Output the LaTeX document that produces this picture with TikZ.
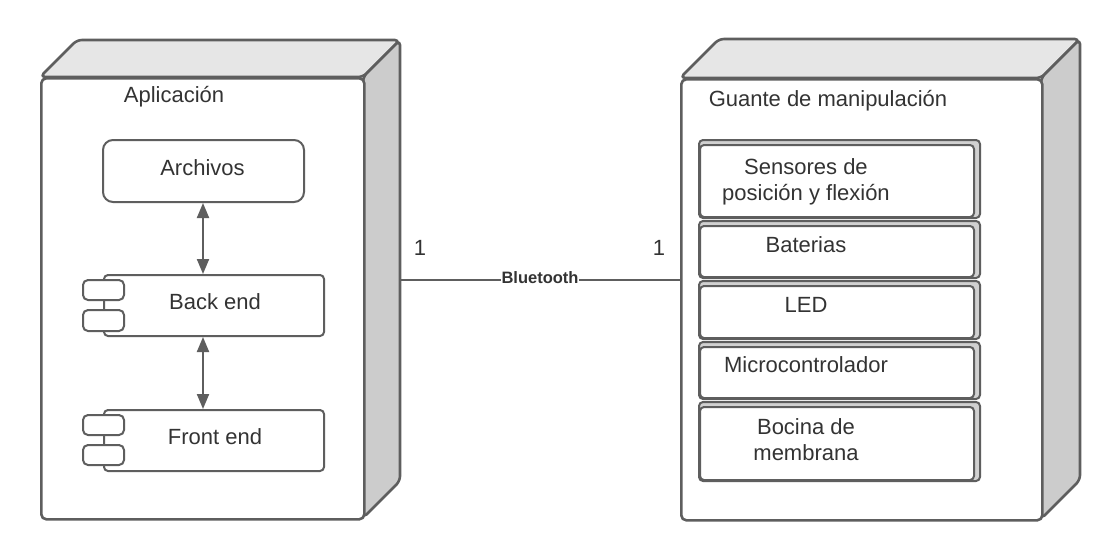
\documentclass[tikz,border=0pt]{standalone}
\usepackage{fontspec}
\setmainfont{Liberation Sans}
\usetikzlibrary{arrows.meta}
\definecolor{linec}{HTML}{5E5E5E}
\definecolor{textc}{HTML}{333333}
\definecolor{topc}{HTML}{E6E6E6}
\definecolor{sidec}{HTML}{CCCCCC}
\begin{document}
\begin{tikzpicture}[x=1pt,y=-1pt,
  bigline/.style={draw=linec, line width=2.6pt, line join=round, rounded corners=5pt},
  bigface/.style={bigline, fill=white, inner sep=0pt, anchor=north west},
  lbl/.style={text=textc, font=\fontsize{22}{26}\selectfont, anchor=base, inner sep=0pt},
  compbox/.style={draw=linec, line width=2pt, fill=white, inner sep=0pt, anchor=north west},
  boxline/.style={draw=linec, line width=2pt, rounded corners=4pt},
  boxface/.style={boxline, fill=white, inner sep=0pt},
  conn/.style={draw=linec, line width=2pt, {Triangle[length=15pt,width=12pt]}-{Triangle[length=15pt,width=12pt]}},
]
\useasboundingbox (0,0) rectangle (1120,560);
\fill[white] (0,0) rectangle (1120,560);

% ---------- Left node: Aplicacion ----------
\draw[bigline, fill=topc] (40,77) -- (77,40) -- (400,40) -- (363,77) -- cycle;
\draw[bigline, fill=sidec] (363,77) -- (400,40) -- (400,481) -- (363,518) -- cycle;
\node[bigface, minimum width=323pt, minimum height=441pt] (app) at (40,77) {};
\node[lbl] (apptitle) at (174,102.5) {Aplicación};

\node[compbox, rounded corners=10pt, minimum width=201pt, minimum height=62pt] (arch) at (102,139) {};
\node[lbl] (archtxt) at (202.5,175.5) {Archivos};

\node[compbox, rounded corners=4pt, minimum width=220pt, minimum height=61pt] (back) at (103,274) {};
\node[compbox, rounded corners=5pt, minimum width=41pt, minimum height=20pt] (backi1) at (82,279) {};
\node[compbox, rounded corners=5pt, minimum width=41pt, minimum height=21pt] (backi2) at (82,309) {};
\node[lbl] (backtxt) at (215,309) {Back end};

\node[compbox, rounded corners=4pt, minimum width=220pt, minimum height=61pt] (front) at (103,409) {};
\node[compbox, rounded corners=5pt, minimum width=41pt, minimum height=20pt] (fronti1) at (82,414) {};
\node[compbox, rounded corners=5pt, minimum width=41pt, minimum height=20pt] (fronti2) at (82,444) {};
\node[lbl] (fronttxt) at (215,444) {Front end};

\coordinate (ax) at (203,0);
\draw[conn] (arch.south -| ax) -- (back.north -| ax);
\draw[conn] (back.south -| ax) -- (front.north -| ax);

% ---------- Right node: Guante ----------
\draw[bigline, fill=topc] (680,78) -- (719,39) -- (1080,39) -- (1041,78) -- cycle;
\draw[bigline, fill=sidec] (1041,78) -- (1080,39) -- (1080,480) -- (1041,519) -- cycle;
\node[bigface, minimum width=361pt, minimum height=441pt] (glove) at (680,78) {};
\node[lbl] (glovetitle) at (828,106.7) {Guante de manipulación};

\foreach \n/\ya/\yb in {s1/140/218, s2/221/278, s3/281/339, s4/342/399, s5/402/481}{
  \draw[boxline, fill=sidec!80!topc] (699,\ya) rectangle (980,\yb);
  \node[boxface, minimum width=274pt, minimum height={(\yb-\ya-6)*1pt}, anchor=south west] (\n) at (699,\yb) {};
}
\node[lbl] (s1a) at (806,174) {Sensores de};
\node[lbl] (s1b) at (806,200.7) {posición y flexión};
\node[lbl] (s2t) at (806,252.7) {Baterias};
\node[lbl] (s3t) at (806,312.3) {LED};
\node[lbl] (s4t) at (806,372.3) {Microcontrolador};
\node[lbl] (s5a) at (806,434) {Bocina de};
\node[lbl] (s5b) at (806,460.7) {membrana};

% ---------- Connector ----------
\coordinate (appside) at (400,280);
\draw[draw=linec, line width=2.4pt] (appside) -- node[pos=0.5, anchor=base, yshift=-3.3pt, fill=white, inner xsep=0.5pt, inner ysep=0pt, text=textc, font=\fontsize{16.5}{19}\selectfont\bfseries] (bt) {Bluetooth} (appside -| glove.west);
\node[lbl] (m1) at (420,255) {1};
\node[lbl] (m2) at (659,255) {1};
\end{tikzpicture}
\end{document}
